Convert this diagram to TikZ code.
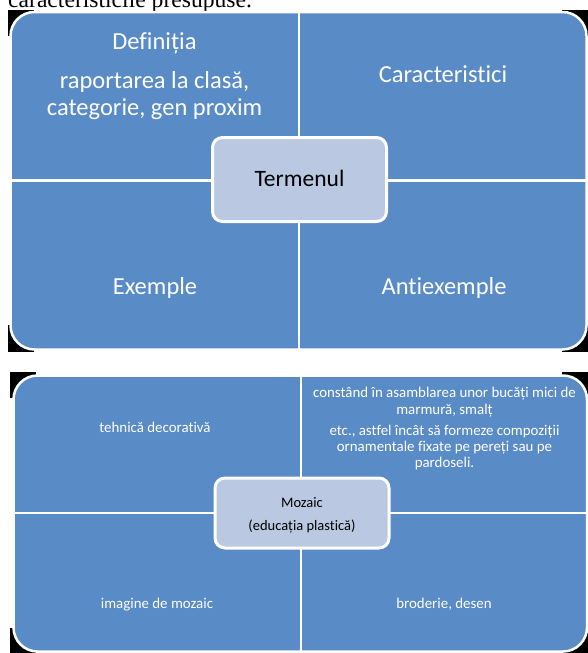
\documentclass[tikz,border=0pt]{standalone}
\usepackage{fontspec}
\setmainfont{Carlito}[Ligatures={NoCommon}]
\newfontfamily\serifhead{Liberation Serif}
\definecolor{panelblue}{RGB}{89,139,199}
\definecolor{centerfill}{RGB}{186,201,225}
\tikzset{
  panel/.style={fill=panelblue, draw=white, line width=2.5pt, rounded corners=24pt},
  divider/.style={draw=white, line width=2.5pt},
  centerbox/.style={fill=centerfill, draw=white, line width=3pt, rounded corners=10pt},
  bigtxt/.style={text=white, font=\fontsize{24.5}{28}\selectfont, anchor=base, inner sep=0pt},
  smalltxt/.style={text=white, font=\fontsize{14.9}{16.5}\selectfont, anchor=base, inner sep=0pt},
  blackcorner/.style={fill=black, draw=none}
}
\begin{document}
\begin{tikzpicture}[x=1pt,y=-1pt]
\useasboundingbox (0,0) rectangle (588,653);
\fill[white] (0,0) rectangle (588,653);
% cut-off heading line
\node[anchor=base west, inner sep=0pt, font=\serifhead\fontsize{23.6}{28}\selectfont] (head) at (8,7) {caracteristicile presupuse.};
% ---------- panel 1 ----------
\fill[blackcorner] (8,10) rectangle (34,36);
\fill[blackcorner] (562,10) rectangle (588,36);
\fill[blackcorner] (8,325) rectangle (34,352);
\fill[blackcorner] (562,325) rectangle (588,352);
\path[panel] (10.5,12) rectangle (586.5,349.5);
\draw[divider] (299,12) -- (299,349.5);
\draw[divider] (10.5,180.5) -- (586.5,180.5);
\node[centerbox, minimum width=174pt, minimum height=84pt] (termen) at (299.5,179.5) {};
\node[anchor=base, inner sep=0pt, font=\fontsize{23.5}{28}\selectfont] (termentxt) at (299.5,186) {Termenul};
\node[bigtxt] (def) at (154.5,49) {Definiția};
\node[bigtxt] (rap1) at (154.5,88) {raportarea la clasă,};
\node[bigtxt] (rap2) at (154.5,115) {categorie, gen proxim};
\node[bigtxt] (carac) at (443,82) {Caracteristici};
\node[bigtxt] (exem) at (155,294) {Exemple};
\node[bigtxt] (antiex) at (444,294) {Antiexemple};
% ---------- panel 2 ----------
\fill[blackcorner] (10,372) rectangle (36,398);
\fill[blackcorner] (562,372) rectangle (588,398);
\fill[blackcorner] (10,628) rectangle (36,653);
\fill[blackcorner] (562,628) rectangle (588,653);
\path[panel] (13.5,375.5) rectangle (587,651.5);
\draw[divider] (301,375.5) -- (301,651.5);
\draw[divider] (13.5,513) -- (587,513);
\node[centerbox, minimum width=174pt, minimum height=70pt] (mozaic) at (302,513) {};
\node[anchor=base, inner sep=0pt, font=\fontsize{14.5}{17}\selectfont] (moz1) at (302,507) {Mozaic};
\node[anchor=base, inner sep=0pt, font=\fontsize{14.5}{17}\selectfont] (moz2) at (302,530) {(educația plastică)};
\node[smalltxt] (tehn) at (155,432) {tehnică decorativă};
\node[smalltxt] (c1) at (444.5,397) {constând în asamblarea unor bucăți mici de};
\node[smalltxt] (c2) at (444.5,414) {marmură, smalț};
\node[smalltxt] (c3) at (444.5,435) {etc., astfel încât să formeze compoziții};
\node[smalltxt] (c4) at (444.5,451) {ornamentale fixate pe pereți sau pe};
\node[smalltxt] (c5) at (444.5,467) {pardoseli.};
\node[smalltxt] (imag) at (157,608) {imagine de mozaic};
\node[smalltxt] (brod) at (444,608) {broderie, desen};
\end{tikzpicture}
\end{document}
